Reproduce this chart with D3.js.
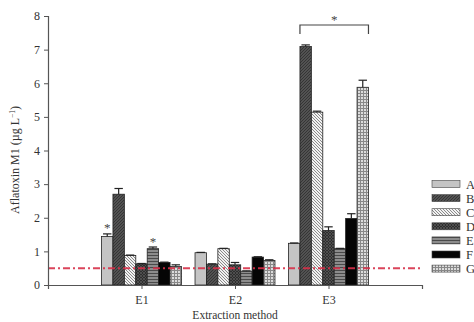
<!DOCTYPE html>
<html>
<head>
<meta charset="utf-8">
<script src="https://cdn.jsdelivr.net/npm/d3@7"></script>
<style>
  html, body { margin: 0; padding: 0; background: #fff; }
  svg { display: block; }
  text { font-family: "Liberation Serif", "Times New Roman", serif; fill: #333; }
</style>
</head>
<body>
<svg id="chart" width="474" height="322"></svg>
<script>
// Extraction methods and sample series
const methods = ["E1", "E2", "E3"];
const series = ["A", "B", "C", "D", "E", "F", "G"];

// Mean aflatoxin M1 (µg/L) per method, one entry per series A..G
const valuesE1 = [1.44, 2.70, 0.88, 0.63, 1.08, 0.67, 0.55];
const valuesE2 = [0.96, 0.62, 1.08, 0.60, 0.41, 0.83, 0.73];
const valuesE3 = [1.24, 7.09, 5.14, 1.62, 1.08, 1.98, 5.88];

// Standard deviations
const errorsE1 = [0.08, 0.17, 0.01, 0.01, 0.05, 0.01, 0.05];
const errorsE2 = [0.01, 0.01, 0.01, 0.07, 0.01, 0.01, 0.02];
const errorsE3 = [0.01, 0.05, 0.03, 0.11, 0.01, 0.14, 0.21];

const yTicks = [0, 1, 2, 3, 4, 5, 6, 7, 8];
const limitValue = 0.5;   // maximum residue limit

const rows = [];
[valuesE1, valuesE2, valuesE3].forEach((vals, mi) => {
  const errs = [errorsE1, errorsE2, errorsE3][mi];
  vals.forEach((v, si) => rows.push({ method: methods[mi], mi: mi, series: series[si], si: si, value: v, err: errs[si] }));
});

const svg = d3.select("#chart");
const defs = svg.append("defs");

// Fill patterns for each series
function pattern(id, bg, draw, size) {
  const p = defs.append("pattern").attr("id", id).attr("patternUnits", "userSpaceOnUse")
    .attr("width", size).attr("height", size);
  p.append("rect").attr("width", size).attr("height", size).attr("fill", bg);
  draw(p, size);
}
pattern("pA", "#c4c4c4", () => {}, 4);
pattern("pB", "#5e5e5e", (p, s) => {
  p.append("path").attr("d", `M0,${s} L${s},0 M-1,1 L1,-1 M${s-1},${s+1} L${s+1},${s-1}`).attr("stroke", "#333").attr("stroke-width", 1.1);
}, 3);
pattern("pC", "#f2f2f2", (p, s) => {
  p.append("path").attr("d", `M0,0 L${s},${s} M-1,${s-1} L1,${s+1} M${s-1},-1 L${s+1},1`).attr("stroke", "#8a8a8a").attr("stroke-width", 1);
}, 3);
pattern("pD", "#2e2e2e", (p, s) => {
  p.append("path").attr("d", `M0,0 L${s},${s} M0,${s} L${s},0`).attr("stroke", "#555").attr("stroke-width", 0.8);
}, 3);
pattern("pE", "#8c8c8c", (p, s) => {
  p.append("path").attr("d", `M0,0.5 L${s},0.5`).attr("stroke", "#4a4a4a").attr("stroke-width", 1);
}, 3);
pattern("pF", "#050505", () => {}, 4);
pattern("pG", "#dcdcdc", (p, s) => {
  p.append("path").attr("d", `M0,0.5 L${s},0.5 M0.5,0 L0.5,${s}`).attr("stroke", "#888").attr("stroke-width", 1);
}, 3);
const fills = series.map(s => `url(#p${s})`);

// Scales: methods sit at 1, 2, 3 on a 0–4 axis
const x = d3.scaleLinear().domain([0, 4]).range([48, 422]);
const y = d3.scaleLinear().domain([0, 8]).range([285, 16]);
const groupWidth = 0.855;
const xs = d3.scaleBand().domain(series).range([-groupWidth / 2, groupWidth / 2]).padding(0);
const barX = d => x(d.mi + 1 + xs(d.series));
const barW = x(xs.bandwidth()) - x(0);

// Bars
svg.append("g").selectAll("rect").data(rows).join("rect")
  .attr("x", barX)
  .attr("y", d => y(d.value))
  .attr("width", barW)
  .attr("height", d => y(0) - y(d.value))
  .attr("fill", d => fills[d.si])
  .attr("stroke", "#222")
  .attr("stroke-width", 0.8);

// Error bars (upper half with cap)
const eb = svg.append("g").attr("stroke", "#222").attr("stroke-width", 1.2);
eb.selectAll("line.v").data(rows).join("line").attr("class", "v")
  .attr("x1", d => barX(d) + barW / 2).attr("x2", d => barX(d) + barW / 2)
  .attr("y1", d => y(d.value)).attr("y2", d => y(d.value + d.err));
eb.selectAll("line.c").data(rows).join("line").attr("class", "c")
  .attr("x1", d => barX(d) + 1.5).attr("x2", d => barX(d) + barW - 1.5)
  .attr("y1", d => y(d.value + d.err)).attr("y2", d => y(d.value + d.err));

// Limit line
svg.append("line")
  .attr("x1", x(0)).attr("x2", 420)
  .attr("y1", y(limitValue)).attr("y2", y(limitValue))
  .attr("stroke", "#d8304a").attr("stroke-width", 2)
  .attr("stroke-dasharray", "7,3,2,3").attr("opacity", 0.9);

// Axes
const yAxis = svg.append("g").attr("transform", `translate(${x(0)},0)`)
  .call(d3.axisLeft(y).tickValues(yTicks).tickFormat(d3.format("d")).tickSizeOuter(0).tickSize(4).tickPadding(4));
const xAxis = svg.append("g").attr("transform", `translate(0,${y(0)})`)
  .call(d3.axisBottom(x).tickValues([1, 2, 3]).tickFormat(d => methods[d - 1]).tickSizeOuter(0).tickSize(4).tickPadding(6));
[yAxis, xAxis].forEach(a => {
  a.select(".domain").attr("stroke", "#555").attr("stroke-width", 1.2);
  a.selectAll(".tick line").attr("stroke", "#555");
  a.selectAll(".tick text").attr("font-size", 12).attr("fill", "#333")
    .attr("font-family", "Liberation Serif, serif");
});

// Axis titles
svg.append("text").attr("x", x(2)).attr("y", 319).attr("text-anchor", "middle")
  .attr("font-size", 11.5).text("Extraction method");
const yt = svg.append("text").attr("transform", "translate(19,160) rotate(-90)")
  .attr("text-anchor", "middle").attr("font-size", 12);
yt.append("tspan").text("Aflatoxin M1 (µg L");
yt.append("tspan").attr("font-size", 7.5).attr("dy", -4).text("−1");
yt.append("tspan").attr("dy", 4).text(")");

// Significance markers
const star = (cx, cy) => svg.append("text").attr("x", cx).attr("y", cy)
  .attr("text-anchor", "middle").attr("font-size", 13).style("fill", "#444").text("*");
const rowOf = (m, s) => rows.find(r => r.method === m && r.series === s);
[["E1", "A"], ["E1", "E"]].forEach(([m, s]) => {
  const r = rowOf(m, s);
  star(barX(r) + barW / 2, y(r.value + r.err) - 1.5);
});
const bL = barX(rowOf("E3", "B")), bR = barX(rowOf("E3", "G")) + barW;
const by = 25;
svg.append("path").attr("d", `M${bL},${by + 9} L${bL},${by} L${bR},${by} L${bR},${by + 9}`)
  .attr("fill", "none").attr("stroke", "#444").attr("stroke-width", 1.2);
star((bL + bR) / 2, by - 1);

// Legend
const lg = svg.append("g");
series.forEach((s, i) => {
  const ly = 184 + i * 14.1;
  lg.append("rect").attr("x", 432).attr("y", ly - 3.5).attr("width", 28).attr("height", 7)
    .attr("fill", fills[i]).attr("stroke", "#444").attr("stroke-width", 0.6);
  lg.append("text").attr("x", 466).attr("y", ly + 4.5).attr("font-size", 12.5).text(s);
});
</script>
</body>
</html>
